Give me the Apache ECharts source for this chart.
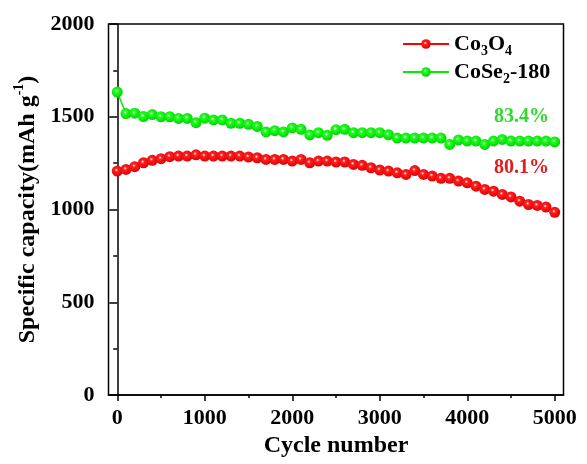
<!DOCTYPE html>
<html><head><meta charset="utf-8">
<script src="https://cdn.jsdelivr.net/npm/echarts@6/dist/echarts.min.js"></script>
<style>html,body{margin:0;padding:0;background:#fff}#c{width:587px;height:464px}</style>
</head><body><div id="c"></div>
<script>
const cycles = [0,100,200,300,400,500,600,700,800,900,1000,1100,1200,1300,1400,1500,1600,1700,1800,1900,2000,2100,2200,2300,2400,2500,2600,2700,2800,2900,3000,3100,3200,3300,3400,3500,3600,3700,3800,3900,4000,4100,4200,4300,4400,4500,4600,4700,4800,4900,5000];
const co3o4 = [1207,1216,1231,1252,1265,1274,1285,1288,1288,1295,1288,1288,1288,1288,1288,1283,1279,1270,1270,1270,1261,1270,1252,1261,1261,1256,1256,1243,1238,1225,1213,1207,1198,1189,1210,1189,1180,1168,1168,1153,1144,1126,1108,1099,1081,1068,1045,1027,1022,1013,985];
const cose2 = [1633,1517,1519,1501,1512,1500,1500,1491,1491,1468,1492,1483,1483,1465,1465,1459,1448,1418,1425,1418,1440,1432,1402,1414,1400,1430,1432,1414,1414,1414,1414,1403,1385,1385,1385,1385,1385,1385,1351,1375,1369,1369,1351,1369,1378,1369,1369,1369,1369,1369,1364];
const xTickLabels = [0,1000,2000,3000,4000,5000];
const xMinorTicks = [500,1500,2500,3500,4500];
const retention = [{text:'83.4%', x:4620, y:1497, color:'#2edc2e'},{text:'80.1%', x:4620, y:1222, color:'#e01e1e'}];

const FONT = "'Liberation Serif','Times New Roman',serif";
function ball(c1, c2){
  return {type:'radial', x:0.42, y:0.4, r:0.62, colorStops:[
    {offset:0,color:'#ffffff'},{offset:0.25,color:c1},{offset:1,color:c2}]};
}
const plain = v => String(v);
const chart = echarts.init(document.getElementById('c'), null, {renderer:'canvas'});
const axisLine = {show:true, lineStyle:{color:'#000', width:1.5}};
const labelBase = {color:'#000', fontFamily:FONT, fontWeight:'bold', formatter:plain};
chart.setOption({
  animation:false,
  backgroundColor:'#fff',
  grid:{left:108.5, right:23.5, top:24, bottom:69, show:true, borderColor:'#000', borderWidth:1.5},
  legend:{
    orient:'vertical', left:397, top:28, itemWidth:46, itemHeight:12, itemGap:3,
    textStyle:{fontFamily:FONT, fontWeight:'bold', fontSize:22, color:'#000',
      rich:{n:{fontFamily:FONT, fontWeight:'bold', fontSize:22, lineHeight:28},
            s:{fontFamily:FONT, fontWeight:'bold', fontSize:14, lineHeight:14, verticalAlign:'bottom'}}},
    formatter:function(name){
      if(name==='Co3O4') return '{n|Co}{s|3}{n|O}{s|4}';
      return '{n|CoSe}{s|2}{n|-180}';
    },
    data:['Co3O4','CoSe2-180']
  },
  xAxis:[{
    type:'value', min:-100, max:5100, position:'bottom',
    name:'Cycle number', nameLocation:'middle', nameGap:38,
    nameTextStyle:{fontFamily:FONT, fontWeight:'bold', fontSize:24, color:'#000'},
    axisLine:axisLine,
    axisTick:{show:true, length:6, lineStyle:{color:'#000', width:1.5}, customValues:xTickLabels},
    axisLabel:Object.assign({}, labelBase, {fontSize:22, margin:12, customValues:xTickLabels}),
    splitLine:{show:false}
  },{
    type:'value', min:-100, max:5100, position:'bottom', gridIndex:0,
    axisLine:{show:false},
    axisTick:{show:true, length:3, lineStyle:{color:'#000', width:1.5}, customValues:xMinorTicks},
    axisLabel:{show:false, customValues:xMinorTicks},
    splitLine:{show:false}
  }],
  yAxis:{
    type:'value', min:0, max:2000, interval:500,
    name:'{n|Specific capacity(mAh g}{p|-1}{n|)}', nameLocation:'middle', nameGap:66, nameRotate:90,
    nameTextStyle:{fontFamily:FONT, fontWeight:'bold', fontSize:24, color:'#000',
      rich:{n:{fontFamily:FONT, fontWeight:'bold', fontSize:24, lineHeight:30},
            p:{fontFamily:FONT, fontWeight:'bold', fontSize:14, lineHeight:14, verticalAlign:'top'}}},
    axisLine:axisLine,
    axisTick:{show:true, length:8, lineStyle:{color:'#000', width:1.5}},
    minorTick:{show:true, splitNumber:2, length:4, lineStyle:{color:'#000', width:1.5}},
    axisLabel:Object.assign({}, labelBase, {fontSize:22, margin:14}),
    splitLine:{show:false}
  },
  series:[{
    name:'Co3O4', type:'line', data:cycles.map((c,i)=>[c,co3o4[i]]),
    symbol:'circle', symbolSize:11, z:3,
    lineStyle:{color:'#ff0000', width:1.5},
    itemStyle:{color:ball('#ff2020','#dd0000'), borderWidth:0},
    markPoint:{symbol:'circle', symbolSize:1, itemStyle:{color:'rgba(0,0,0,0)'},
      label:{show:true, position:'inside', formatter:retention[1].text, color:retention[1].color, fontFamily:FONT, fontWeight:'bold', fontSize:20},
      data:[{coord:[retention[1].x, retention[1].y]}]}
  },{
    name:'CoSe2-180', type:'line', data:cycles.map((c,i)=>[c,cose2[i]]),
    symbol:'circle', symbolSize:11, z:2,
    lineStyle:{color:'#00ee00', width:1.5},
    itemStyle:{color:ball('#20ff20','#00d000'), borderWidth:0},
    markPoint:{symbol:'circle', symbolSize:1, itemStyle:{color:'rgba(0,0,0,0)'},
      label:{show:true, position:'inside', formatter:retention[0].text, color:retention[0].color, fontFamily:FONT, fontWeight:'bold', fontSize:20},
      data:[{coord:[retention[0].x, retention[0].y]}]}
  }]
});
</script></body></html>
